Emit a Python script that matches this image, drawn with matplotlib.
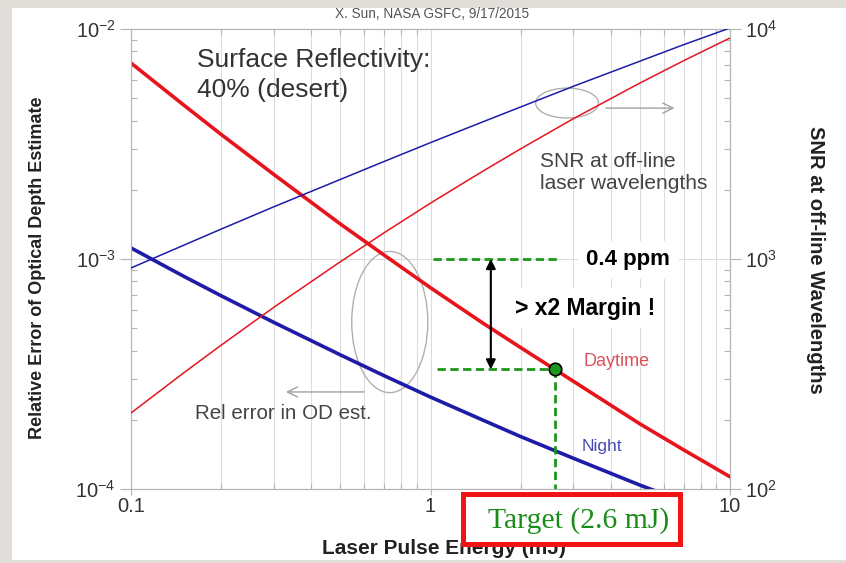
import numpy as np
import matplotlib
matplotlib.use("Agg")
import matplotlib.pyplot as plt
from matplotlib.patches import Ellipse, Rectangle
from matplotlib.ticker import LogLocator, NullFormatter

plt.rcParams['font.family'] = ['Liberation Sans', 'DejaVu Sans']

# laser pulse energy (mJ) and the four model curves
energy_mj = [0.1, 0.15, 0.2, 0.3, 0.5, 0.7, 1, 1.5, 2, 3, 5, 7, 10]
err_day = [7.11e-3, 4.67e-3, 3.48e-3, 2.33e-3, 1.42e-3, 1.04e-3, 7.5e-4,
           5.25e-4, 4.12e-4, 2.94e-4, 1.92e-4, 1.48e-4, 1.13e-4]
err_night = [1.117e-3, 8.41e-4, 6.92e-4, 5.30e-4, 3.83e-4, 3.11e-4, 2.51e-4,
             1.99e-4, 1.69e-4, 1.36e-4, 1.04e-4, 8.83e-5, 7.45e-5]
snr_day = [214, 320, 422, 617, 973, 1300, 1750, 2415, 3013, 4075, 5820, 7280, 9140]
snr_night = [914, 1148, 1349, 1687, 2218, 2655, 3206, 3954, 4581, 5636, 7244, 8547, 10100]

target_energy = 2.6        # mJ
requirement_err = 1.0e-3   # 0.4 ppm XCO2 equivalent
margin_x = 1.59            # where the margin arrow sits

RED = '#e8141c'
BLUE = '#1c1ca8'
GREEN = '#1d961d'
GRID = '#dcdcdc'

fig = plt.figure(figsize=(8.46, 5.63), dpi=100, facecolor='#e1ded9')
W, H = 846, 563

def fig_box(x0, y0, x1, y1):
    # pixel box (top-left origin) -> figure fraction
    return x0 / W, 1 - y1 / H, (x1 - x0) / W, (y1 - y0) / H

x, y, w, h = fig_box(12, 8, 846, 560)
fig.patches.append(Rectangle((x, y), w, h, transform=fig.transFigure,
                             facecolor='white', edgecolor='none', zorder=-5))

ax = fig.add_axes(fig_box(131, 29, 730, 489))
ax.set_xscale('log')
ax.set_yscale('log')
ax.set_xlim(0.1, 10)
ax.set_ylim(1e-4, 1e-2)

ax2 = ax.twinx()
ax2.set_yscale('log')
ax2.set_ylim(1e2, 1e4)

# error curves (left axis) and SNR curves (right axis)
ax.plot(energy_mj, err_day, color=RED, lw=2.6, zorder=4)
ax.plot(energy_mj, err_night, color=BLUE, lw=2.6, zorder=4)
ax2.plot(energy_mj, snr_day, color=RED, lw=1.1, zorder=4)
ax2.plot(energy_mj, snr_night, color=BLUE, lw=1.1, zorder=4)

# grid: all decades + x minor lines
ax.grid(which='major', color=GRID, lw=0.8)
ax.grid(which='minor', axis='x', color=GRID, lw=0.8)
ax.set_axisbelow(True)
for a in (ax, ax2):
    for s in a.spines.values():
        s.set_color('#b5b5b5')
        s.set_linewidth(0.8)

ax.set_xticks([0.1, 1, 10])
ax.set_xticklabels(['0.1', '1', '10'])
ax.xaxis.set_minor_locator(LogLocator(base=10, subs=np.arange(2, 10)))
ax.xaxis.set_minor_formatter(NullFormatter())
for a in (ax, ax2):
    a.yaxis.set_major_locator(LogLocator(base=10, numticks=5))
    a.yaxis.set_minor_locator(LogLocator(base=10, subs=np.arange(2, 10), numticks=10))
    a.yaxis.set_minor_formatter(NullFormatter())
    a.tick_params(which='major', direction='out', length=8, width=0.8,
                  color='#b5b5b5', labelsize=14.5, labelcolor='#333333', pad=3)
    a.tick_params(which='minor', direction='in', length=4, width=0.8, color='#b5b5b5')
ax.tick_params(axis='x', which='major', length=4, pad=2)
ax.tick_params(axis='x', which='minor', top=True, direction='in')

# target point and margin annotation
target_err = 10 ** np.interp(np.log10(target_energy), np.log10(energy_mj), np.log10(err_day))
dash = dict(color=GREEN, lw=2, linestyle=(0, (3, 1.6)), zorder=5)
ax.plot([1.02, 2.64], [requirement_err, requirement_err], **dash)
ax.plot([1.05, target_energy], [target_err, target_err], **dash)
ax.plot([target_energy, target_energy], [target_err, 1e-4], clip_on=False, **dash)
ax.plot([target_energy], [target_err], 'o', ms=9, mfc=GREEN, mec='black', mew=1.2, zorder=6)
ax.annotate('', xy=(margin_x, requirement_err), xytext=(margin_x, target_err),
            arrowprops=dict(arrowstyle='<|-|>', color='black', lw=1.5,
                            shrinkA=0, shrinkB=0, mutation_scale=14), zorder=6)

box = dict(facecolor='white', edgecolor='none', pad=6)
ax.text(0.83, 0.498, '0.4 ppm', transform=ax.transAxes, ha='center', va='center',
        fontsize=16, fontweight='bold', color='black', bbox=box, zorder=5)
ax.text(0.758, 0.393, '> x2 Margin !', transform=ax.transAxes, ha='center', va='center',
        fontsize=16.5, fontweight='bold', color='black', bbox=box, zorder=5)

# descriptive labels
ax.text(0.11, 0.958, 'Surface Reflectivity:\n40% (desert)', transform=ax.transAxes,
        ha='left', va='top', fontsize=19, color='#333333', linespacing=1.3)
ax.text(0.683, 0.732, 'SNR at off-line\nlaser wavelengths', transform=ax.transAxes,
        ha='left', va='top', fontsize=15, color='#444444', linespacing=1.2)
ax.text(0.107, 0.165, 'Rel error in OD est.', transform=ax.transAxes,
        ha='left', va='center', fontsize=14.8, color='#444444')
ax.text(0.755, 0.278, 'Daytime', transform=ax.transAxes, ha='left', va='center',
        fontsize=13, color='#e05058')
ax.text(0.753, 0.093, 'Night', transform=ax.transAxes, ha='left', va='center',
        fontsize=12.6, color='#4848b8')

# grouping ellipses with pointer arrows
ax.add_patch(Ellipse((0.432, 0.363), 0.127, 0.307, transform=ax.transAxes,
                     fill=False, edgecolor='#b0b0b0', lw=1, zorder=3))
ax.add_patch(Ellipse((0.728, 0.839), 0.105, 0.065, transform=ax.transAxes,
                     fill=False, edgecolor='#b0b0b0', lw=1, zorder=3))
arrow = dict(arrowstyle='->', color='#a0a0a0', lw=1, mutation_scale=18)
ax.annotate('', xy=(0.254, 0.211), xytext=(0.394, 0.211), xycoords='axes fraction',
            arrowprops=arrow)
ax.annotate('', xy=(0.912, 0.828), xytext=(0.788, 0.828), xycoords='axes fraction',
            arrowprops=arrow)

# axis titles
fig.text(37 / W, 1 - 268 / H, 'Relative Error of Optical Depth Estimate', rotation=90,
         ha='center', va='center', fontsize=13, fontweight='bold', color='#222222')
fig.text(815 / W, 1 - 260 / H, 'SNR at off-line Wavelengths', rotation=-90,
         ha='center', va='center', fontsize=14.5, fontweight='bold', color='#222222')
fig.text(444 / W, 1 - 549 / H, 'Laser Pulse Energy (mJ)', ha='center', va='center',
         fontsize=15, fontweight='bold', color='#222222', zorder=3)
fig.text(432 / W, 1 - 14 / H, 'X. Sun, NASA GSFC, 9/17/2015', ha='center', va='center',
         fontsize=9.8, color='#555555')

# highlighted target callout
x, y, w, h = fig_box(466, 497, 683, 547)
fig.patches.append(Rectangle((x, y), w, h, transform=fig.transFigure,
                             facecolor='#9a9a9a', edgecolor='none', alpha=0.5, zorder=7))
x, y, w, h = fig_box(463, 494, 680, 544)
fig.patches.append(Rectangle((x, y), w, h, transform=fig.transFigure,
                             facecolor='white', edgecolor='#f01414', lw=3.6, zorder=8))
fig.text(579 / W, 1 - 521 / H, 'Target (2.6 mJ)', ha='center', va='center',
         fontsize=21.4, family=['Liberation Serif', 'DejaVu Serif'], color='#1a8c1a', zorder=9)

fig.savefig('out.png', dpi=100, facecolor=fig.get_facecolor())
